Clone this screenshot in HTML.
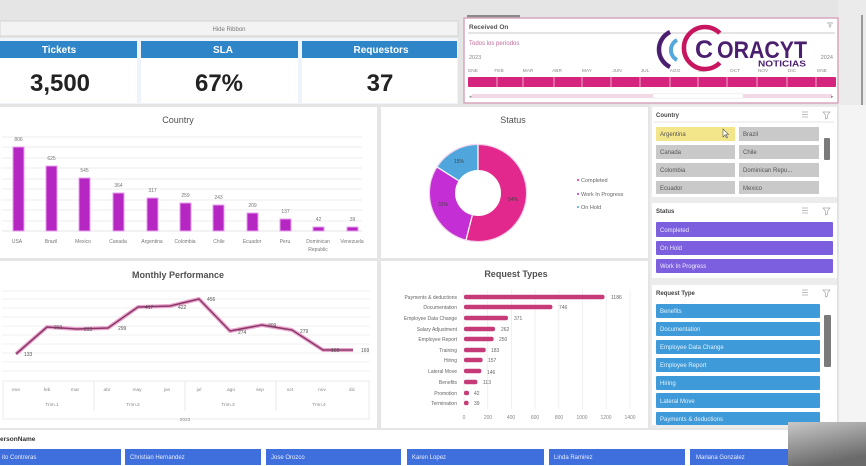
<!DOCTYPE html>
<html><head><meta charset="utf-8">
<style>
html,body{margin:0;padding:0;background:#e4e4e4;overflow:hidden;}
svg{display:block;font-family:"Liberation Sans",Arial,sans-serif;}
</style></head><body>
<svg width="866" height="466" viewBox="0 0 866 466" xmlns="http://www.w3.org/2000/svg">
<defs>
<linearGradient id="ov" x1="0" y1="0" x2="0.35" y2="1">
<stop offset="0" stop-color="#c8c8c8"/><stop offset="1" stop-color="#6a6a6a"/></linearGradient>
</defs>
<rect width="866" height="466" fill="#e5e5e5"/>

<!-- Hide ribbon -->
<rect x="0" y="21" width="458" height="15" fill="#f3f3f3" stroke="#d4d4d4"/>
<text x="229" y="31" font-size="6" fill="#777" text-anchor="middle">Hide Ribbon</text>

<!-- KPIs -->
<rect x="0" y="38" width="458" height="66" fill="#eef4f9"/>
<rect x="0" y="41" width="137" height="17" fill="#2e86c8"/>
<rect x="141" y="41" width="157" height="17" fill="#2e86c8"/>
<rect x="302" y="41" width="155" height="17" fill="#2e86c8"/>
<text x="59" y="53" font-size="10" font-weight="bold" fill="#fff" text-anchor="middle">Tickets</text>
<text x="223" y="53" font-size="10" font-weight="bold" fill="#fff" text-anchor="middle">SLA</text>
<text x="381" y="53" font-size="10" font-weight="bold" fill="#fff" text-anchor="middle">Requestors</text>
<rect x="0" y="58" width="137" height="45" fill="#fff"/>
<rect x="141" y="58" width="157" height="45" fill="#fff"/>
<rect x="302" y="58" width="155" height="45" fill="#fff"/>
<text x="60" y="91" font-size="24" font-weight="bold" fill="#222" text-anchor="middle">3,500</text>
<text x="219" y="91" font-size="24" font-weight="bold" fill="#222" text-anchor="middle">67%</text>
<text x="380" y="91" font-size="24" font-weight="bold" fill="#222" text-anchor="middle">37</text>

<!-- Received On panel -->
<rect x="838" y="0" width="28" height="105" fill="#ebebeb"/>
<rect x="861" y="15" width="2" height="90" fill="#9a9a9a"/>
<rect x="467" y="15" width="53" height="3" fill="#8a8a8a"/>
<rect x="464" y="18" width="374" height="85" fill="#fff" stroke="#d9a7be" stroke-width="1.5"/>
<text x="469" y="29" font-size="6.5" font-weight="bold" fill="#555">Received On</text>
<line x1="468" y1="33" x2="835" y2="33" stroke="#c8c8c8"/>
<text x="469" y="45" font-size="6" fill="#c0679a">Todos los períodos</text>
<text x="469" y="59" font-size="5.5" fill="#888">2023</text>
<text x="833" y="59" font-size="5.5" fill="#888" text-anchor="end">2024</text>
<g font-size="4.8" fill="#888" text-anchor="middle">
<text x="473" y="72">ENE</text><text x="499" y="72">FEB</text><text x="528" y="72">MAR</text>
<text x="557" y="72">ABR</text><text x="587" y="72">MAY</text><text x="617" y="72">JUN</text>
<text x="645" y="72">JUL</text><text x="675" y="72">AGO</text><text x="703" y="72">SEP</text>
<text x="735" y="72">OCT</text><text x="763" y="72">NOV</text><text x="792" y="72">DIC</text>
<text x="822" y="72">ENE</text></g>
<rect x="468" y="77" width="368" height="10" fill="#d4247e" rx="1"/>
<g stroke="#f0a6c8" stroke-width="1">
<line x1="497" y1="77" x2="497" y2="87"/><line x1="523" y1="77" x2="523" y2="87"/><line x1="554" y1="77" x2="554" y2="87"/>
<line x1="582" y1="77" x2="582" y2="87"/><line x1="611" y1="77" x2="611" y2="87"/><line x1="640" y1="77" x2="640" y2="87"/>
<line x1="670" y1="77" x2="670" y2="87"/><line x1="698" y1="77" x2="698" y2="87"/><line x1="727" y1="77" x2="727" y2="87"/>
<line x1="757" y1="77" x2="757" y2="87"/><line x1="787" y1="77" x2="787" y2="87"/><line x1="816" y1="77" x2="816" y2="87"/>
</g>
<rect x="472" y="94" width="360" height="4" fill="#f2d9e5"/>
<rect x="653" y="93.5" width="90" height="5" fill="#fff" stroke="#e6e6e6" stroke-width="0.5"/>
<text x="469" y="98" font-size="5" fill="#888">◂</text>
<text x="831" y="98" font-size="5" fill="#888">▸</text>
<path d="M827,23 h6 M828.5,25 h3 M830,25 v3" stroke="#999" stroke-width="0.8" fill="none"/>

<!-- Logo -->
<path d="M670,32 A19.4,19.4 0 0,0 670,67" stroke="#4b1f6f" stroke-width="4.5" fill="none"/>
<path d="M677,40 A11.3,11.3 0 0,0 677,60" stroke="#55a8dc" stroke-width="4" fill="none"/>
<path d="M719.8,33.2 A21,21 0 1,0 719.8,62.8" stroke="#c8155f" stroke-width="4.5" fill="none"/>
<text x="695" y="58" font-size="25" font-weight="bold" fill="#4b1f6f">C</text>
<text x="717" y="58" font-size="24" font-weight="bold" fill="#4b1f6f" textLength="90" lengthAdjust="spacingAndGlyphs" stroke="#fff" stroke-width="0.6" paint-order="stroke">ORACYT</text>
<text x="758" y="66.5" font-size="8" font-weight="bold" fill="#4b1f6f" textLength="48" lengthAdjust="spacingAndGlyphs">NOTICIAS</text>

<!-- Country panel -->
<rect x="0" y="107" width="377" height="151" fill="#fff"/>
<text x="178" y="123" font-size="9" fill="#505050" text-anchor="middle">Country</text>
<g stroke="#e8e8e8" stroke-width="0.8">
<line x1="2" y1="137" x2="362" y2="137"/><line x1="2" y1="147" x2="362" y2="147"/><line x1="2" y1="158" x2="362" y2="158"/>
<line x1="2" y1="168" x2="362" y2="168"/><line x1="2" y1="179" x2="362" y2="179"/><line x1="2" y1="189" x2="362" y2="189"/>
<line x1="2" y1="200" x2="362" y2="200"/><line x1="2" y1="210" x2="362" y2="210"/><line x1="2" y1="221" x2="362" y2="221"/>
<line x1="2" y1="231" x2="362" y2="231" stroke="#dcdcdc"/>
</g>
<g fill="#b526c3" stroke="#e6a0ee" stroke-width="1">
<rect x="13" y="147" width="11" height="84"/>
<rect x="46" y="166" width="11" height="65"/>
<rect x="79" y="178" width="11" height="53"/>
<rect x="113" y="193" width="11" height="38"/>
<rect x="147" y="198" width="11" height="33"/>
<rect x="180" y="203" width="11" height="28"/>
<rect x="213" y="205" width="11" height="26"/>
<rect x="247" y="213" width="11" height="18"/>
<rect x="280" y="219" width="11" height="12"/>
<rect x="313" y="227" width="11" height="4"/>
<rect x="347" y="227" width="11" height="4"/>
</g>
<g font-size="5" fill="#777" text-anchor="middle">
<text x="18.5" y="141">806</text><text x="51.5" y="160">625</text><text x="84.5" y="172">545</text>
<text x="118.5" y="187">364</text><text x="152.5" y="192">317</text><text x="185.5" y="197">259</text>
<text x="218.5" y="199">243</text><text x="252.5" y="207">209</text><text x="285.5" y="213">137</text>
<text x="318.5" y="221">42</text><text x="352.5" y="221">39</text>
</g>
<g font-size="5" fill="#777" text-anchor="middle">
<text x="17" y="243">USA</text><text x="51" y="243">Brazil</text><text x="83" y="243">Mexico</text>
<text x="118" y="243">Canada</text><text x="152" y="243">Argentina</text><text x="185" y="243">Colombia</text>
<text x="219" y="243">Chile</text><text x="252" y="243">Ecuador</text><text x="285" y="243">Peru</text>
<text x="318" y="243">Dominican</text><text x="318" y="251">Republic</text><text x="352" y="243">Venezuela</text>
</g>

<!-- Status panel -->
<rect x="381" y="107" width="267" height="151" fill="#fff"/>
<text x="513" y="123" font-size="9" fill="#505050" text-anchor="middle">Status</text>
<circle cx="478" cy="193" r="48.6" fill="none" stroke="#f3d3ea" stroke-width="1.2"/>
<g transform="rotate(-90 478 193)" fill="none" stroke-width="25">
<circle cx="478" cy="193" r="35.5" stroke="#e2288c" stroke-dasharray="120.4 223.1" stroke-dashoffset="0"/>
<circle cx="478" cy="193" r="35.5" stroke="#c32fd4" stroke-dasharray="67 223.1" stroke-dashoffset="-120.4"/>
<circle cx="478" cy="193" r="35.5" stroke="#4fa6dc" stroke-dasharray="35.7 223.1" stroke-dashoffset="-187.4"/>
</g>
<g stroke="#fff" stroke-width="1.3">
<line x1="478" y1="170" x2="478" y2="144.5"/>
<line x1="472.3" y1="215.3" x2="466" y2="240"/>
<line x1="458.6" y1="180.7" x2="437" y2="167"/>
</g>
<g font-size="5" fill="#444" text-anchor="middle">
<text x="513" y="201">54%</text><text x="443" y="206">31%</text><text x="459" y="163">15%</text>
</g>
<g font-size="5.5" fill="#666">
<circle cx="578" cy="180" r="1" fill="#e2288c"/><text x="581" y="182">Completed</text>
<circle cx="578" cy="194" r="1" fill="#c32fd4"/><text x="581" y="196">Work In Progress</text>
<circle cx="578" cy="207" r="1" fill="#4fa6dc"/><text x="581" y="209">On Hold</text>
</g>

<!-- Monthly Performance -->
<rect x="0" y="261" width="377" height="167" fill="#fff"/>
<text x="178" y="278" font-size="9" font-weight="bold" fill="#505050" text-anchor="middle">Monthly Performance</text>
<g stroke="#ebebeb" stroke-width="0.8">
<line x1="2" y1="291" x2="370" y2="291"/><line x1="2" y1="299" x2="370" y2="299"/><line x1="2" y1="308" x2="370" y2="308"/>
<line x1="2" y1="317" x2="370" y2="317"/><line x1="2" y1="326" x2="370" y2="326"/><line x1="2" y1="335" x2="370" y2="335"/>
<line x1="2" y1="344" x2="370" y2="344"/><line x1="2" y1="353" x2="370" y2="353"/><line x1="2" y1="362" x2="370" y2="362"/>
<line x1="2" y1="371" x2="370" y2="371"/>
</g>
<rect x="3" y="381" width="366" height="38" fill="none" stroke="#e6e6e6" stroke-width="0.8"/>
<g stroke="#e2e2e2" stroke-width="0.8">
<line x1="94" y1="381" x2="94" y2="411"/><line x1="185" y1="381" x2="185" y2="411"/><line x1="276" y1="381" x2="276" y2="411"/>
</g>
<polyline points="16,354 47,327 77,329 108,328 138,307 170,306 199,299 230,331 262,325 292,330 323,350 353,350" fill="none" stroke="#eaa6cf" stroke-width="4" stroke-linejoin="round"/>
<polyline points="16,354 47,327 77,329 108,328 138,307 170,306 199,299 230,331 262,325 292,330 323,350 353,350" fill="none" stroke="#8a3868" stroke-width="1.5" stroke-linejoin="round"/>
<g font-size="5" fill="#555">
<text x="24" y="356">133</text><text x="54" y="329">303</text><text x="84" y="331">293</text>
<text x="118" y="330">299</text><text x="145" y="309">417</text><text x="178" y="309">422</text>
<text x="207" y="301">456</text><text x="238" y="334">274</text><text x="268" y="327">309</text>
<text x="300" y="333">279</text><text x="331" y="352">169</text><text x="361" y="352">169</text>
</g>
<g font-size="4.8" fill="#888" text-anchor="middle">
<text x="16" y="391">ene</text><text x="47" y="391">feb</text><text x="75" y="391">mar</text>
<text x="107" y="391">abr</text><text x="137" y="391">may</text><text x="167" y="391">jun</text>
<text x="199" y="391">jul</text><text x="231" y="391">ago</text><text x="260" y="391">sep</text>
<text x="290" y="391">oct</text><text x="322" y="391">nov</text><text x="352" y="391">dic</text>
<text x="52" y="406">Trim.1</text><text x="133" y="406">Trim.2</text><text x="228" y="406">Trim.3</text><text x="319" y="406">Trim.4</text>
<text x="185" y="421">2023</text>
</g>

<!-- Request Types -->
<rect x="381" y="261" width="267" height="167" fill="#fff"/>
<text x="516" y="277" font-size="9" font-weight="bold" fill="#505050" text-anchor="middle">Request Types</text>
<g stroke="#ececec" stroke-width="0.8">
<line x1="464" y1="290" x2="464" y2="409"/><line x1="487.7" y1="290" x2="487.7" y2="409"/>
<line x1="511.4" y1="290" x2="511.4" y2="409"/><line x1="535.1" y1="290" x2="535.1" y2="409"/>
<line x1="558.8" y1="290" x2="558.8" y2="409"/><line x1="582.5" y1="290" x2="582.5" y2="409"/>
<line x1="606.2" y1="290" x2="606.2" y2="409"/><line x1="629.9" y1="290" x2="629.9" y2="409"/>
</g>
<g fill="#c63a78">
<rect x="464" y="294.8" width="140.5" height="4.5" rx="2"/>
<rect x="464" y="304.8" width="88.4" height="4.5" rx="2"/>
<rect x="464" y="315.8" width="44" height="4.5" rx="2"/>
<rect x="464" y="326.8" width="31" height="4.5" rx="2"/>
<rect x="464" y="336.8" width="29.6" height="4.5" rx="2"/>
<rect x="464" y="347.8" width="21.7" height="4.5" rx="2"/>
<rect x="464" y="357.8" width="18.6" height="4.5" rx="2"/>
<rect x="464" y="368.8" width="17.3" height="4.5" rx="2"/>
<rect x="464" y="379.8" width="13.4" height="4.5" rx="2"/>
<rect x="464" y="390.8" width="5" height="4.5" rx="2"/>
<rect x="464" y="400.8" width="4.6" height="4.5" rx="2"/>
</g>
<g font-size="5" fill="#666" text-anchor="end">
<text x="457" y="299">Payments &amp; deductions</text>
<text x="457" y="309">Documentation</text>
<text x="457" y="320">Employee Data Change</text>
<text x="457" y="331">Salary Adjustment</text>
<text x="457" y="341">Employee Report</text>
<text x="457" y="352">Training</text>
<text x="457" y="362">Hiring</text>
<text x="457" y="373">Lateral Move</text>
<text x="457" y="384">Benefits</text>
<text x="457" y="395">Promotion</text>
<text x="457" y="405">Termination</text>
</g>
<g font-size="5" fill="#666">
<text x="611" y="299">1186</text><text x="559" y="309">746</text><text x="514" y="320">371</text>
<text x="501" y="331">262</text><text x="499" y="341">250</text><text x="491" y="352">183</text>
<text x="488" y="362">157</text><text x="487" y="374">146</text><text x="483" y="384">113</text>
<text x="474" y="395">42</text><text x="474" y="405">39</text>
</g>
<g font-size="5" fill="#888" text-anchor="middle">
<text x="464" y="419">0</text><text x="488" y="419">200</text><text x="511" y="419">400</text>
<text x="535" y="419">600</text><text x="559" y="419">800</text><text x="582" y="419">1000</text>
<text x="606" y="419">1200</text><text x="630" y="419">1400</text>
</g>

<!-- Slicer column -->
<rect x="650" y="105" width="188" height="323" fill="#ececec"/>
<rect x="838" y="105" width="28" height="320" fill="#f4f4f4"/>
<line x1="838" y1="105" x2="838" y2="425" stroke="#d6d6d6"/>

<!-- Country slicer -->
<rect x="652" y="107" width="185" height="90" fill="#fff"/>
<text x="656" y="117" font-size="6" font-weight="bold" fill="#444">Country</text>
<g stroke="#aaa" stroke-width="0.7" fill="none">
<path d="M802,112 h6 M802,114.5 h6 M802,117 h6"/><path d="M823,112 h7 l-2.5,3 v3 l-2,1 v-4 z"/>
</g>
<line x1="654" y1="122" x2="834" y2="122" stroke="#e6e6e6"/>
<rect x="656" y="127" width="79" height="14" fill="#f3e58a"/>
<rect x="739" y="127" width="80" height="14" fill="#c9c9c9"/>
<rect x="656" y="145" width="79" height="14" fill="#c9c9c9"/>
<rect x="739" y="145" width="80" height="14" fill="#c9c9c9"/>
<rect x="656" y="163" width="79" height="14" fill="#c9c9c9"/>
<rect x="739" y="163" width="80" height="14" fill="#c9c9c9"/>
<rect x="656" y="181" width="79" height="13" fill="#c9c9c9"/>
<rect x="739" y="181" width="80" height="13" fill="#c9c9c9"/>
<g font-size="6" fill="#555">
<text x="660" y="136">Argentina</text><text x="743" y="136">Brazil</text>
<text x="660" y="154">Canada</text><text x="743" y="154">Chile</text>
<text x="660" y="172">Colombia</text><text x="743" y="172">Dominican Repu...</text>
<text x="660" y="190">Ecuador</text><text x="743" y="190">Mexico</text>
</g>
<path d="M723,129 v8 l2,-2 l1.5,3 l1,-0.5 l-1.5,-3 h2.5 z" fill="#fff" stroke="#555" stroke-width="0.6"/>
<rect x="824" y="138" width="6" height="22" fill="#7a7a7a" rx="1"/>

<!-- Status slicer -->
<rect x="652" y="203" width="185" height="75" fill="#fff"/>
<text x="656" y="213" font-size="6" font-weight="bold" fill="#444">Status</text>
<g stroke="#aaa" stroke-width="0.7" fill="none">
<path d="M802,208 h6 M802,210.5 h6 M802,213 h6"/><path d="M823,208 h7 l-2.5,3 v3 l-2,1 v-4 z"/>
</g>
<rect x="656" y="222" width="177" height="15" fill="#7b5fdf" rx="1"/>
<rect x="656" y="241" width="177" height="14" fill="#7b5fdf" rx="1"/>
<rect x="656" y="259" width="177" height="14" fill="#7b5fdf" rx="1"/>
<g font-size="6" fill="#f0ecff">
<text x="660" y="232">Completed</text><text x="660" y="250">On Hold</text><text x="660" y="268">Work In Progress</text>
</g>

<!-- Request Type slicer -->
<rect x="652" y="285" width="185" height="140" fill="#fff"/>
<text x="656" y="295" font-size="6" font-weight="bold" fill="#444">Request Type</text>
<g stroke="#aaa" stroke-width="0.7" fill="none">
<path d="M802,290 h6 M802,292.5 h6 M802,295 h6"/><path d="M823,290 h7 l-2.5,3 v3 l-2,1 v-4 z"/>
</g>
<g fill="#3f9ad9">
<rect x="656" y="304" width="164" height="14" rx="1"/>
<rect x="656" y="322" width="164" height="14" rx="1"/>
<rect x="656" y="340" width="164" height="14" rx="1"/>
<rect x="656" y="358" width="164" height="14" rx="1"/>
<rect x="656" y="376" width="164" height="14" rx="1"/>
<rect x="656" y="393" width="164" height="15" rx="1"/>
<rect x="656" y="412" width="164" height="13" rx="1"/>
</g>
<g font-size="6" fill="#e4f2fc">
<text x="660" y="313">Benefits</text><text x="660" y="331">Documentation</text>
<text x="660" y="349">Employee Data Change</text><text x="660" y="367">Employee Report</text>
<text x="660" y="385">Hiring</text><text x="660" y="403">Lateral Move</text>
<text x="660" y="421">Payments &amp; deductions</text>
</g>
<rect x="824" y="315" width="7" height="52" fill="#7a7a7a" rx="1"/>

<!-- Bottom person slicer -->
<rect x="0" y="430" width="788" height="36" fill="#fff"/>
<text x="0" y="441" font-size="6.5" font-weight="bold" fill="#333">ersonName</text>
<g fill="#3f6fdc">
<rect x="0" y="449" width="121" height="16"/>
<rect x="125" y="449" width="136" height="16"/>
<rect x="266" y="449" width="135" height="16"/>
<rect x="407" y="449" width="137" height="16"/>
<rect x="549" y="449" width="136" height="16"/>
<rect x="690" y="449" width="98" height="16"/>
</g>
<g font-size="6" fill="#e8eeff">
<text x="2" y="459">ito Contreras</text><text x="130" y="459">Christian Hernandez</text>
<text x="271" y="459">Jose Orozco</text><text x="412" y="459">Karen Lopez</text>
<text x="554" y="459">Linda Ramirez</text><text x="696" y="459">Mariana Gonzalez</text>
</g>

<!-- bottom-right overlay -->
<rect x="788" y="422" width="78" height="44" fill="url(#ov)"/>
</svg>
</body></html>
